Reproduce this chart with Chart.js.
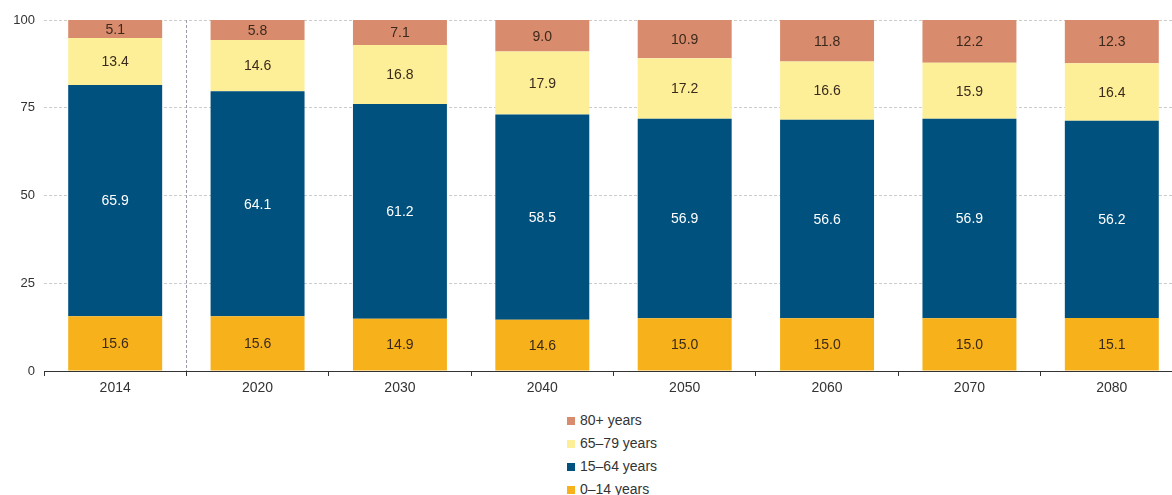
<!DOCTYPE html>
<html>
<head>
<meta charset="utf-8">
<script src="https://cdn.jsdelivr.net/npm/chart.js@4.4.1/dist/chart.umd.min.js"></script>
<style>
    body { margin: 0; background: #fff; overflow: hidden; font-family: "Liberation Sans", Arial, sans-serif; }
    #wrap { position: relative; width: 1183px; height: 400px; }
    #legend { margin-left: 567px; padding-top: 9px; }
    .item { height: 23px; line-height: 23px; font-size: 14px; color: #333; }
    .item span.box { display: inline-block; width: 8px; height: 8px; margin-right: 5px; vertical-align: 0px; }
</style>
</head>
<body>
<div id="wrap"><canvas id="popChart"></canvas></div>
<div id="legend"></div>
<script>
const years = ['2014', '2020', '2030', '2040', '2050', '2060', '2070', '2080'];
const age0to14 = [15.6, 15.6, 14.9, 14.6, 15.0, 15.0, 15.0, 15.1];
const age15to64 = [65.9, 64.1, 61.2, 58.5, 56.9, 56.6, 56.9, 56.2];
const age65to79 = [13.4, 14.6, 16.8, 17.9, 17.2, 16.6, 15.9, 16.4];
const age80plus = [5.1, 5.8, 7.1, 9.0, 10.9, 11.8, 12.2, 12.3];
const yTicks = [0, 25, 50, 75, 100];

const datasets = [
    { label: '0\u201314 years', data: age0to14, backgroundColor: '#f7b11a', textColor: '#3b2a1c' },
    { label: '15\u201364 years', data: age15to64, backgroundColor: '#00517e', textColor: '#ffffff' },
    { label: '65\u201379 years', data: age65to79, backgroundColor: '#fcef98', textColor: '#3b2a1c' },
    { label: '80+ years', data: age80plus, backgroundColor: '#d98b6d', textColor: '#3b2a1c' }
];

// values written in the middle of each segment
const segmentLabels = {
    id: 'segmentLabels',
    afterDatasetsDraw(chart) {
        const ctx = chart.ctx;
        ctx.save();
        ctx.font = '14px "Liberation Sans", Arial, sans-serif';
        ctx.textAlign = 'center';
        ctx.textBaseline = 'middle';
        chart.data.datasets.forEach((ds, i) => {
            chart.getDatasetMeta(i).data.forEach((bar, j) => {
                const p = bar.getCenterPoint();
                ctx.fillStyle = ds.textColor;
                ctx.fillText(ds.data[j].toFixed(1), p.x, p.y + 1);
            });
        });
        ctx.restore();
    }
};

// dashed separator between the observed year and the projections
const separator = {
    id: 'separator',
    beforeDatasetsDraw(chart) {
        const x = chart.scales.x;
        const a = chart.chartArea;
        const px = (x.getPixelForValue(0) + x.getPixelForValue(1)) / 2;
        const ctx = chart.ctx;
        ctx.save();
        ctx.strokeStyle = '#9a9aa8';
        ctx.lineWidth = 1;
        ctx.setLineDash([3, 2]);
        ctx.beginPath();
        ctx.moveTo(Math.round(px) + 0.5, a.top);
        ctx.lineTo(Math.round(px) + 0.5, a.bottom);
        ctx.stroke();
        ctx.restore();
    }
};

new Chart(document.getElementById('popChart'), {
    type: 'bar',
    data: { labels: years, datasets: datasets },
    options: {
        responsive: true,
        maintainAspectRatio: false,
        animation: false,
        layout: { padding: { top: 20, right: 0, left: 0, bottom: 0 } },
        plugins: { legend: { display: false }, tooltip: { enabled: false } },
        datasets: { bar: { categoryPercentage: 1, barPercentage: 0.66 } },
        scales: {
            x: {
                stacked: true,
                grid: { drawOnChartArea: false, tickLength: 5, color: '#333' },
                border: { color: '#333', width: 1 },
                ticks: { color: '#333', padding: 4, font: { size: 14, family: '"Liberation Sans", Arial' } },
                afterFit: (s) => { s.height = 29; }
            },
            y: {
                stacked: true,
                min: 0,
                max: 100,
                afterBuildTicks: (s) => { s.ticks = yTicks.map(v => ({ value: v })); },
                grid: { color: '#cccccc', tickLength: 0, drawTicks: false },
                border: { display: false, dash: [3, 2] },
                ticks: { color: '#333', padding: 9, font: { size: 13, family: '"Liberation Sans", Arial' } },
                afterFit: (s) => { s.width = 44; }
            }
        }
    },
    plugins: [separator, segmentLabels]
});

// legend, top to bottom from the last series
const legend = document.getElementById('legend');
datasets.slice().reverse().forEach(ds => {
    const row = document.createElement('div');
    row.className = 'item';
    row.innerHTML = '<span class="box" style="background:' + ds.backgroundColor + '"></span>' + ds.label;
    legend.appendChild(row);
});
</script>
</body>
</html>
